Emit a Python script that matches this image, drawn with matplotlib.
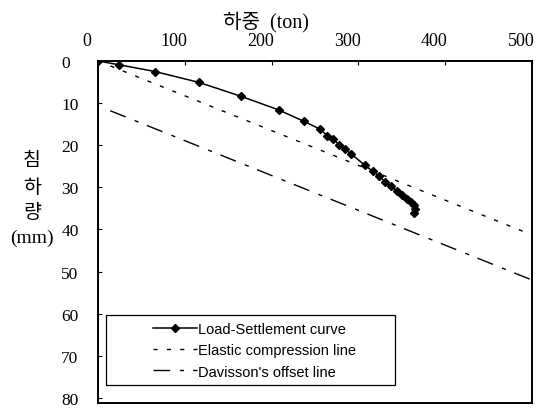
"""Pile load test - load vs settlement with Davisson offset line"""
import matplotlib
matplotlib.use('Agg')
import matplotlib.pyplot as plt
import matplotlib.transforms as mtransforms
from matplotlib.patches import Rectangle

plt.rcParams['font.family'] = ['Liberation Serif', 'Noto Sans CJK KR']
plt.rcParams['lines.scale_dashes'] = False

# load (ton) / settlement (mm)
LOAD = [0, 24.5, 65.7, 116.7, 165, 208, 237, 256, 264, 271, 278, 284.5, 291,
        308, 316.5, 324, 330.6, 337, 344, 350, 356, 361, 364.4, 365, 364.4]
SETTLE = [0, 0.9, 2.5, 5.1, 8.4, 11.6, 14.3, 16.2, 17.7, 18.6, 19.9, 20.8, 22.0,
          24.8, 26.2, 27.3, 28.7, 29.7, 30.8, 31.7, 32.8, 33.4, 34.2, 35.2, 36.0]

ELASTIC_X = [0, 500]
ELASTIC_Y = [0, 41.3]
OFFSET_X = [14, 500]
OFFSET_Y = [11.8, 52.0]

X_TICKS = [0, 100, 200, 300, 400, 500]
Y_TICKS = [0, 10, 20, 30, 40, 50, 60, 70, 80]
LABELS = ["Load-Settlement curve", "Elastic compression line", "Davisson's offset line"]

fig = plt.figure(figsize=(5.39, 4.10), dpi=100)
ax = fig.add_axes([98 / 539, 6 / 410, 434 / 539, 342 / 410])

ax.plot(LOAD, SETTLE, color='black', lw=1.1, marker='D', ms=3.6, label=LABELS[0])
ax.plot(ELASTIC_X, ELASTIC_Y, color='black', lw=1.0, dashes=(3.0, 6.6), label=LABELS[1])
ax.plot(OFFSET_X, OFFSET_Y, color='black', lw=1.0, dashes=(12, 7, 3, 6.5), label=LABELS[2])

ax.set_xlim(0, 500)
ax.set_ylim(81.2, 0)
ax.set_xticks(X_TICKS)
ax.set_yticks(Y_TICKS)
ax.xaxis.tick_top()
ax.tick_params(axis='x', direction='in', length=3, pad=9, labelsize=13)
ax.tick_params(axis='y', direction='in', length=3, pad=26.5, labelsize=12.5)
for sp in ax.spines.values():
    sp.set_linewidth(1.4)

# scanned labels sit a bit left of their ticks
shift = mtransforms.ScaledTranslation(-0.11, 0, fig.dpi_scale_trans)
for lbl in ax.get_xticklabels():
    lbl.set_transform(lbl.get_transform() + shift)
for lbl in ax.get_yticklabels():
    lbl.set_horizontalalignment('left')

# axis titles (Korean)
fig.text(266 / 539, 1 - 22 / 410, '하중  (ton)', ha='center', va='center', fontsize=14.5)
for txt, ypx in [('침', 161), ('하', 188), ('량', 213), ('(mm)', 238)]:
    fig.text(32 / 539, 1 - ypx / 410, txt, ha='center', va='center', fontsize=14)

# legend box drawn separately, entries placed inside
ax.add_patch(Rectangle(((106 - 98) / 434, (404 - 386) / 342), (395 - 106) / 434, 70 / 342,
                       transform=ax.transAxes, fill=False, ec='black', lw=0.9, zorder=5))
ax.legend(loc='upper left', bbox_to_anchor=((153 - 98) / 434, (404 - 323) / 342),
          frameon=False, borderpad=0, borderaxespad=0, handlelength=3.0,
          handletextpad=0.12, labelspacing=0.5,
          prop={'family': 'Liberation Sans', 'size': 10.5})

fig.savefig('out.png', dpi=100)
